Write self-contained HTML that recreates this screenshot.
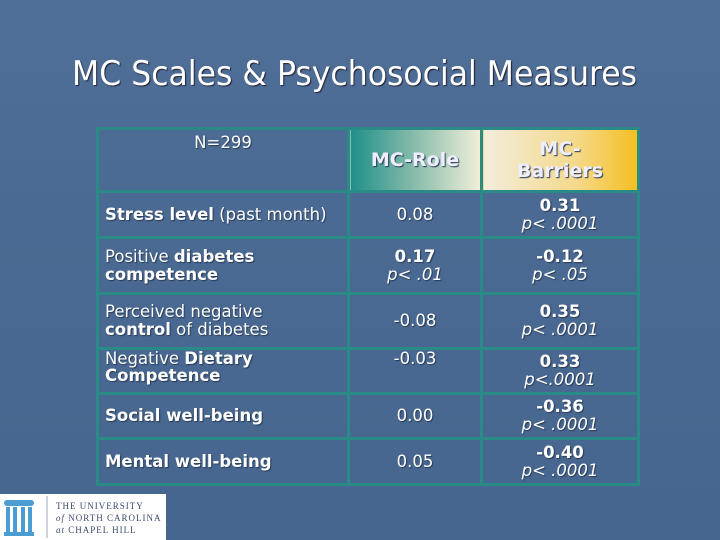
<!DOCTYPE html>
<html><head><meta charset="utf-8">
<style>
html,body{margin:0;padding:0}
body{width:720px;height:540px;overflow:hidden;position:relative;
background:linear-gradient(180deg,#4f6f98 0%,#4a6a93 40%,#46668f 100%);
font-family:"DejaVu Sans","Liberation Sans",sans-serif;color:#fff}
.title{position:absolute;left:72px;top:54px;font-family:"DejaVu Sans Condensed","DejaVu Sans",sans-serif;font-size:34px;white-space:nowrap;transform-origin:left top;transform:scaleX(1.03);color:#fff;text-shadow:1px 1px 1px #223}
table{position:absolute;left:96px;top:127px;width:541px;border-collapse:collapse;table-layout:fixed}
td{border:3px solid #2a8a86;font-size:16.5px;line-height:18px;padding:0 6px;text-shadow:1px 1px 1px #2a3a55;vertical-align:middle}
td.c{text-align:center}
b{font-weight:bold}
i{font-style:italic}
.h1{background:linear-gradient(90deg,#1f8f88 0%,#7fb8a8 45%,#f1efd8 100%);font-weight:bold;font-size:19px;text-align:center;color:#eef}
.h2{background:linear-gradient(90deg,#f2eedd 0%,#f5d98a 60%,#f4bf22 100%);font-weight:bold;font-size:19px;text-align:center;line-height:22px;color:#eef}
.logo{position:absolute;left:0;top:494px;width:166px;height:46px;background:#fff}
</style></head><body>
<div class="title">MC Scales &amp; Psychosocial Measures</div>
<table>
<colgroup><col style="width:251px"><col style="width:133px"><col style="width:157px"></colgroup>
<tr style="height:63px"><td class="c" style="vertical-align:top;padding-top:4px">N=299</td>
<td class="h1">MC-Role</td>
<td class="h2">MC-<br>Barriers</td></tr>
<tr style="height:46px"><td><b>Stress level</b> (past month)</td><td class="c">0.08</td><td class="c"><b>0.31</b><br><i>p&lt; .0001</i></td></tr>
<tr style="height:56px"><td>Positive <b>diabetes</b><br><b>competence</b></td><td class="c"><b>0.17</b><br><i>p&lt; .01</i></td><td class="c"><b>-0.12</b><br><i>p&lt; .05</i></td></tr>
<tr style="height:55px"><td>Perceived negative<br><b>control</b> of diabetes</td><td class="c">-0.08</td><td class="c"><b>0.35</b><br><i>p&lt; .0001</i></td></tr>
<tr style="height:45px"><td style="vertical-align:top;line-height:17px">Negative <b>Dietary</b><br><b>Competence</b></td><td class="c" style="vertical-align:top">-0.03</td><td class="c"><b>0.33</b><br><i>p&lt;.0001</i></td></tr>
<tr style="height:45px"><td><b>Social well-being</b></td><td class="c">0.00</td><td class="c"><b>-0.36</b><br><i>p&lt; .0001</i></td></tr>
<tr style="height:46px"><td><b>Mental well-being</b></td><td class="c">0.05</td><td class="c"><b>-0.40</b><br><i>p&lt; .0001</i></td></tr>
</table>
<div class="logo">
<svg width="166" height="46" style="position:absolute;left:0;top:0">
<g fill="#4b9cd3"><rect x="4" y="6" width="30" height="6" rx="3"/><rect x="6" y="13" width="4" height="26"/><rect x="13" y="13" width="4" height="26"/><rect x="21" y="13" width="4" height="26"/><rect x="28" y="13" width="4" height="26"/><rect x="4" y="38" width="30" height="4"/></g>
<line x1="47" y1="2" x2="47" y2="44" stroke="#9ab" stroke-width="1"/>
</svg>
<div style="position:absolute;left:56px;top:6px;font-family:'Liberation Serif',serif;font-size:9px;line-height:12px;color:#3a4a6a;letter-spacing:1px;white-space:nowrap">THE UNIVERSITY<br><i>of</i> NORTH CAROLINA<br><i>at</i> CHAPEL HILL</div>
</div>
</body></html>
